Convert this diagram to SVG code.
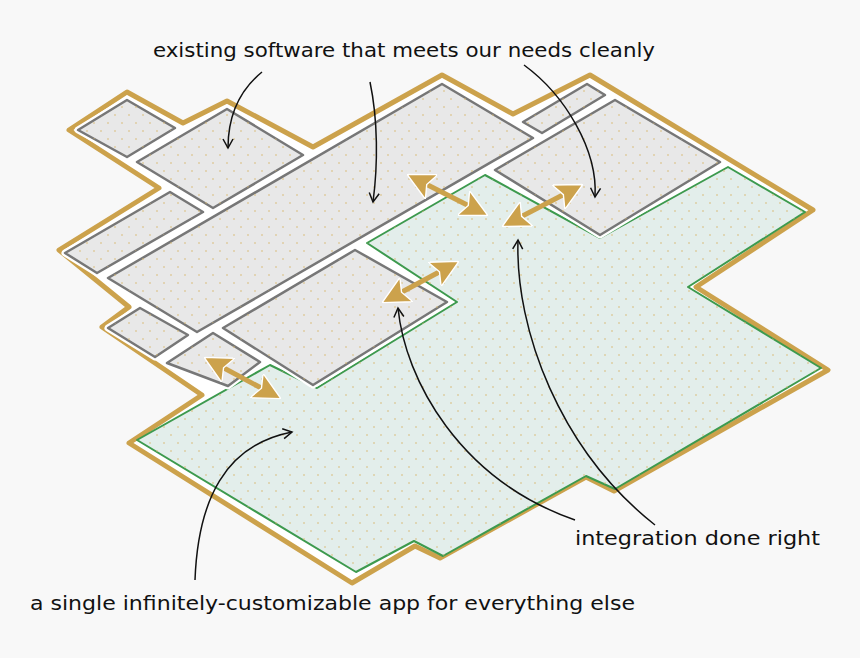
<svg xmlns="http://www.w3.org/2000/svg" width="860" height="658" viewBox="0 0 860 658">
<defs>
<pattern id="dots" width="14" height="16" patternUnits="userSpaceOnUse">
<circle cx="3" cy="3" r="0.8" fill="#d9b870"/><circle cx="10" cy="11" r="0.8" fill="#d9b870"/>
</pattern>
<marker id="open" viewBox="0 0 12 12" refX="10" refY="6" markerWidth="12" markerHeight="12" markerUnits="userSpaceOnUse" orient="auto">
<path d="M1,1 L10,6 L1,11" fill="none" stroke="#111" stroke-width="1.5"/>
</marker>
<marker id="gh" viewBox="0 0 10 10" refX="8" refY="5" markerWidth="5.5" markerHeight="5.5" orient="auto-start-reverse">
<path d="M0,0 L10,5 L0,10 L2,5 Z" fill="#cca24c" stroke="#fff" stroke-width="0.5"/>
</marker>
</defs>
<style>
.gray{fill:#e8e8e8;stroke:#777;stroke-width:2.5;stroke-linejoin:round}
.halo{fill:none;stroke:#fff;stroke-width:7;stroke-linejoin:round}
.dot{fill:url(#dots);stroke:none}
.green{fill:#e3eeeb;stroke:#3d9a4e;stroke-width:2;stroke-linejoin:round}
.gold{fill:#fff;stroke:#cca24c;stroke-width:5;stroke-linejoin:round}
.cur{fill:none;stroke:#111;stroke-width:1.5;marker-end:url(#open)}
.dbl{fill:none;stroke:#cca24c;stroke-width:5;marker-start:url(#gh);marker-end:url(#gh)}
text{font-family:"DejaVu Sans Condensed","Liberation Sans",sans-serif;font-size:20px;fill:#111}
</style>
<rect width="860" height="658" fill="#f8f8f8"/>
<g id="outline">
<polygon class="gold" points="127,92 183,123 227,101 313,147 442,75 513,114 590,75 813,210 696,287 828,370 614,491 586,477 440,558 415,546 352,583 129,443 202,395 102,327 129,307 59,250 159,188 69,130"/>
</g>
<g id="app">
<polygon class="green" points="485,175 600,238 728,167 805,212 688,287 821,368 615,489 586,476 443,556 414,541 356,572 137,440 270,365 317,388 457,302 367,243"/>
<polygon class="dot" points="485,175 600,238 728,167 805,212 688,287 821,368 615,489 586,476 443,556 414,541 356,572 137,440 270,365 317,388 457,302 367,243"/>
</g>
<g id="blocks">
<g id="b1"><polygon class="halo" points="127,100 175,128 127,157 78,130"/><polygon class="gray" points="127,100 175,128 127,157 78,130"/><polygon class="dot" points="127,100 175,128 127,157 78,130"/></g>
<g id="b2"><polygon class="halo" points="227,109 303,155 213,208 137,162"/><polygon class="gray" points="227,109 303,155 213,208 137,162"/><polygon class="dot" points="227,109 303,155 213,208 137,162"/></g>
<g id="b3"><polygon class="halo" points="170,192 203,212 97,273 65,253"/><polygon class="gray" points="170,192 203,212 97,273 65,253"/><polygon class="dot" points="170,192 203,212 97,273 65,253"/></g>
<g id="b4"><polygon class="halo" points="442,84 533,138 197,332 108,278"/><polygon class="gray" points="442,84 533,138 197,332 108,278"/><polygon class="dot" points="442,84 533,138 197,332 108,278"/></g>
<g id="b5"><polygon class="halo" points="140,308 188,335 155,357 108,328"/><polygon class="gray" points="140,308 188,335 155,357 108,328"/><polygon class="dot" points="140,308 188,335 155,357 108,328"/></g>
<g id="b6"><polygon class="halo" points="213,333 260,362 228,386 167,363"/><polygon class="gray" points="213,333 260,362 228,386 167,363"/><polygon class="dot" points="213,333 260,362 228,386 167,363"/></g>
<g id="b7"><polygon class="halo" points="355,250 447,302 313,385 223,328"/><polygon class="gray" points="355,250 447,302 313,385 223,328"/><polygon class="dot" points="355,250 447,302 313,385 223,328"/></g>
<g id="b8"><polygon class="halo" points="587,84 605,95 542,133 523,122"/><polygon class="gray" points="587,84 605,95 542,133 523,122"/><polygon class="dot" points="587,84 605,95 542,133 523,122"/></g>
<g id="b9"><polygon class="halo" points="615,100 720,162 600,235 495,170"/><polygon class="gray" points="615,100 720,162 600,235 495,170"/><polygon class="dot" points="615,100 720,162 600,235 495,170"/></g>
</g>
<g id="connectors">
<line class="dbl" x1="412" y1="177" x2="483" y2="213"/>
<line class="dbl" x1="507" y1="224" x2="578" y2="187"/>
<line class="dbl" x1="387" y1="300" x2="454" y2="264"/>
<line class="dbl" x1="209" y1="360" x2="276" y2="396"/>
<path class="cur" d="M262,72 C240,90 228,115 228,148"/>
<path class="cur" d="M370,82 C378,120 378,165 373,202"/>
<path class="cur" d="M524,65 C565,95 598,150 595,197"/>
<path class="cur" d="M575,520 C460,480 405,380 398,308"/>
<path class="cur" d="M655,525 C560,450 515,330 518,240"/>
<path class="cur" d="M195,580 C198,500 225,445 292,432"/>
</g>
<g id="labels">
<text x="153" y="57" textLength="502" lengthAdjust="spacingAndGlyphs">existing software that meets our needs cleanly</text>
<text x="575" y="545" textLength="245" lengthAdjust="spacingAndGlyphs">integration done right</text>
<text x="30" y="610" textLength="605" lengthAdjust="spacingAndGlyphs">a single infinitely-customizable app for everything else</text>
</g>
</svg>
